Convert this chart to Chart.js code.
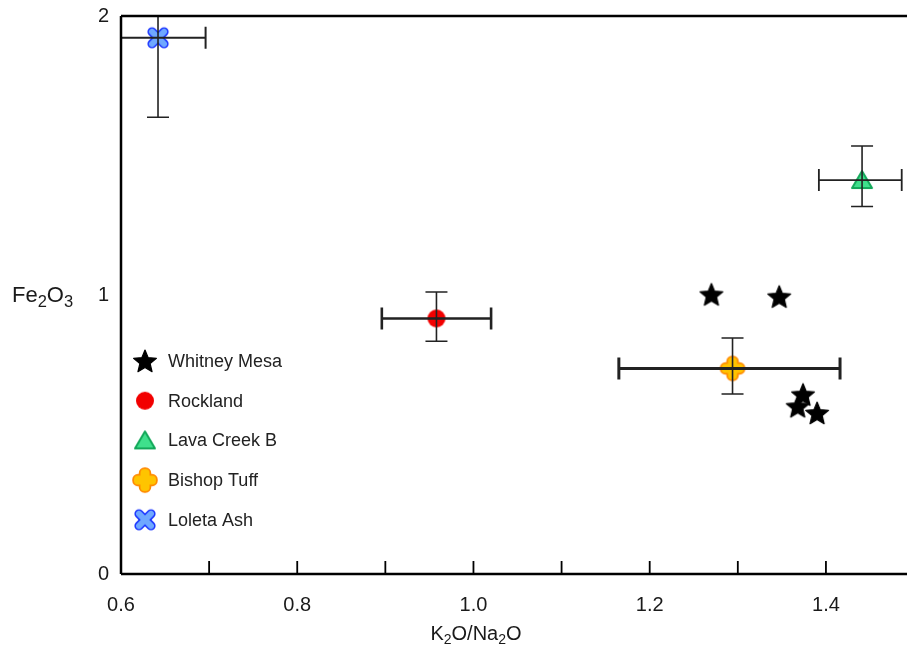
<!DOCTYPE html>
<html>
<head>
<meta charset="utf-8">
<script src="https://cdn.jsdelivr.net/npm/chart.js@4"></script>
<style>
html,body{margin:0;padding:0;background:#fff;}
#wrap{width:907px;height:657px;position:relative;}
</style>
</head>
<body>
<div id="wrap"><canvas id="c" width="907" height="657"></canvas></div>
<script>
// ---- data ----
const categories = ['Whitney Mesa', 'Rockland', 'Lava Creek B', 'Bishop Tuff', 'Loleta Ash'];
const whitneyX = [1.270, 1.347, 1.374, 1.368, 1.390];
const whitneyY = [1.002, 0.994, 0.643, 0.601, 0.577];
const rocklandX = [0.958];
const rocklandY = [0.916];
const rocklandXErr = [0.896, 1.020];
const rocklandYErr = [0.834, 1.011];
const lavaX = [1.441];
const lavaY = [1.412];
const lavaXErr = [1.392, 1.486];
const lavaYErr = [1.317, 1.534];
const bishopX = [1.294];
const bishopY = [0.737];
const bishopXErr = [1.165, 1.416];
const bishopYErr = [0.645, 0.846];
const loletaX = [0.642];
const loletaY = [1.922];
const loletaXErr = [0.600, 0.696];
const loletaYErr = [1.637, 2.000];
const xTickLabels = [0.6, 0.8, 1.0, 1.2, 1.4];
const xTickMarks = [0.7, 0.8, 0.9, 1.0, 1.1, 1.2, 1.3, 1.4];
const yTickLabels = [0, 1, 2];

// ---- marker images ----
function mk(size, draw) {
  const c = document.createElement('canvas');
  c.width = size; c.height = size;
  const g = c.getContext('2d');
  draw(g, size / 2);
  return c;
}
function rr(g, x, y, w, h, r) {
  g.beginPath();
  g.moveTo(x + r, y);
  g.arcTo(x + w, y, x + w, y + h, r);
  g.arcTo(x + w, y + h, x, y + h, r);
  g.arcTo(x, y + h, x, y, r);
  g.arcTo(x, y, x + w, y, r);
  g.closePath();
}
const starImg = mk(28, (g, c) => {
  g.beginPath();
  for (let i = 0; i < 10; i++) {
    const r = i % 2 === 0 ? 12 : 5.4;
    const a = -Math.PI / 2 + i * Math.PI / 5;
    const px = c + r * Math.cos(a), py = c + 1 + r * Math.sin(a);
    if (i === 0) g.moveTo(px, py); else g.lineTo(px, py);
  }
  g.closePath();
  g.fillStyle = '#000';
  g.fill();
  g.lineJoin = 'round';
  g.lineWidth = 1.2;
  g.strokeStyle = '#000';
  g.stroke();
});
const circleImg = mk(22, (g, c) => {
  g.beginPath();
  g.arc(c, c, 9, 0, Math.PI * 2);
  g.fillStyle = '#f20000';
  g.fill();
});
const triImg = mk(24, (g, c) => {
  g.beginPath();
  g.moveTo(c, c - 9);
  g.lineTo(c + 10, c + 8);
  g.lineTo(c - 10, c + 8);
  g.closePath();
  g.fillStyle = '#3fe08c';
  g.fill();
  g.lineWidth = 2;
  g.lineJoin = 'round';
  g.strokeStyle = '#13a85a';
  g.stroke();
});
const plusImg = mk(28, (g, c) => {
  const L = 22, W = 9, r = 4;
  g.lineWidth = 3.5;
  g.strokeStyle = '#ff8a00';
  rr(g, c - L / 2, c - W / 2, L, W, r); g.stroke();
  rr(g, c - W / 2, c - L / 2, W, L, r); g.stroke();
  g.fillStyle = '#ffc400';
  rr(g, c - L / 2, c - W / 2, L, W, r); g.fill();
  rr(g, c - W / 2, c - L / 2, W, L, r); g.fill();
});
const xImg = mk(28, (g, c) => {
  const L = 23, W = 6, r = 3;
  g.save();
  g.translate(c, c);
  g.rotate(Math.PI / 4);
  g.lineWidth = 3.2;
  g.strokeStyle = '#1a35ff';
  rr(g, -L / 2, -W / 2, L, W, r); g.stroke();
  rr(g, -W / 2, -L / 2, W, L, r); g.stroke();
  g.fillStyle = '#6fa8ff';
  rr(g, -L / 2, -W / 2, L, W, r); g.fill();
  rr(g, -W / 2, -L / 2, W, L, r); g.fill();
  g.restore();
});
const markerImgs = [starImg, circleImg, triImg, plusImg, xImg];

function pts(xs, ys) { return xs.map((x, i) => ({ x: x, y: ys[i] })); }

const errorBars = [
  { x: rocklandX[0], y: rocklandY[0], xe: rocklandXErr, ye: rocklandYErr, xw: 2.6 },
  { x: lavaX[0], y: lavaY[0], xe: lavaXErr, ye: lavaYErr, xw: 1.8 },
  { x: bishopX[0], y: bishopY[0], xe: bishopXErr, ye: bishopYErr, xw: 3 },
  { x: loletaX[0], y: loletaY[0], xe: loletaXErr, ye: loletaYErr, xw: 2 }
];

function drawSubText(g, parts, cx, cy, size, sub, align) {
  g.save();
  g.textBaseline = 'middle';
  g.textAlign = 'left';
  let w = 0;
  parts.forEach(p => {
    g.font = (p[1] ? size * sub : size) + 'px "Liberation Sans", Arial, sans-serif';
    w += g.measureText(p[0]).width;
  });
  let x = align === 'left' ? cx : cx - w / 2;
  parts.forEach(p => {
    g.font = (p[1] ? size * sub : size) + 'px "Liberation Sans", Arial, sans-serif';
    g.fillText(p[0], x, p[1] ? cy + size * 0.3 : cy);
    x += g.measureText(p[0]).width;
  });
  g.restore();
}

const decor = {
  id: 'decor',
  afterDatasetsDraw(chart) {
    const g = chart.ctx, xs = chart.scales.x, ys = chart.scales.y, a = chart.chartArea;
    g.save();
    // error bars
    g.strokeStyle = '#222';
    errorBars.forEach(e => {
      const px = xs.getPixelForValue(e.x), py = ys.getPixelForValue(e.y);
      const x0 = xs.getPixelForValue(e.xe[0]), x1 = xs.getPixelForValue(e.xe[1]);
      const y0 = ys.getPixelForValue(e.ye[0]), y1 = ys.getPixelForValue(e.ye[1]);
      g.lineWidth = e.xw;
      g.beginPath();
      g.moveTo(x0, py); g.lineTo(x1, py);
      g.moveTo(x0, py - 11); g.lineTo(x0, py + 11);
      g.moveTo(x1, py - 11); g.lineTo(x1, py + 11);
      g.stroke();
      g.lineWidth = 1.6;
      g.beginPath();
      g.moveTo(px, y0); g.lineTo(px, y1);
      g.moveTo(px - 11, y0); g.lineTo(px + 11, y0);
      g.moveTo(px - 11, y1); g.lineTo(px + 11, y1);
      g.stroke();
    });
    // axes frame
    g.strokeStyle = '#000';
    g.lineWidth = 2.5;
    g.beginPath();
    g.moveTo(a.left, a.top); g.lineTo(a.right + 5, a.top);
    g.moveTo(a.left, a.top); g.lineTo(a.left, a.bottom);
    g.moveTo(a.left, a.bottom); g.lineTo(a.right + 5, a.bottom);
    g.stroke();
    // inward x ticks
    g.lineWidth = 1.8;
    g.beginPath();
    xTickMarks.forEach(v => {
      const px = xs.getPixelForValue(v);
      g.moveTo(px, a.bottom); g.lineTo(px, a.bottom - 13);
    });
    g.stroke();
    // legend
    g.fillStyle = '#222';
    categories.forEach((name, i) => {
      const cy = 361 + i * 39.7;
      const img = markerImgs[i];
      g.drawImage(img, 145 - img.width / 2, cy - img.height / 2);
      g.font = '18px "Liberation Sans", Arial, sans-serif';
      g.textBaseline = 'middle';
      g.textAlign = 'left';
      g.fillText(name, 168, cy + 1);
    });
    // axis titles
    g.fillStyle = '#1a1a1a';
    drawSubText(g, [['Fe', false], ['2', true], ['O', false], ['3', true]], 12, 296, 22, 0.75, 'left');
    drawSubText(g, [['K', false], ['2', true], ['O/Na', false], ['2', true], ['O', false]], 476, 634, 20, 0.7, 'center');
    g.restore();
  }
};

const imgDataset = (label, xs, ys, img) => ({
  label: label, data: pts(xs, ys), pointStyle: img, pointRadius: 10, showLine: false, clip: false
});

new Chart(document.getElementById('c'), {
  type: 'scatter',
  data: {
    datasets: [
      imgDataset(categories[0], whitneyX, whitneyY, starImg),
      imgDataset(categories[1], rocklandX, rocklandY, circleImg),
      imgDataset(categories[2], lavaX, lavaY, triImg),
      imgDataset(categories[3], bishopX, bishopY, plusImg),
      imgDataset(categories[4], loletaX, loletaY, xImg)
    ]
  },
  options: {
    responsive: false,
    animation: false,
    events: [],
    layout: { autoPadding: false, padding: { top: 16, left: 0, right: 0, bottom: 0 } },
    plugins: { legend: { display: false }, tooltip: { enabled: false } },
    scales: {
      x: {
        type: 'linear', min: 0.6, max: 1.492,
        grid: { display: false, drawTicks: false },
        border: { display: false },
        afterBuildTicks: s => { s.ticks = xTickLabels.map(v => ({ value: v })); },
        afterFit: s => { s.height = 83; s.paddingLeft = 0; s.paddingRight = 0; },
        ticks: {
          padding: 19, color: '#1a1a1a', maxRotation: 0,
          font: { family: '"Liberation Sans", Arial, sans-serif', size: 20 },
          callback: v => v.toFixed(1)
        }
      },
      y: {
        type: 'linear', min: 0, max: 2,
        grid: { display: false, drawTicks: false },
        border: { display: false },
        afterBuildTicks: s => { s.ticks = yTickLabels.map(v => ({ value: v })); },
        afterFit: s => { s.width = 121; s.paddingTop = 0; s.paddingBottom = 0; },
        ticks: {
          padding: 12, color: '#1a1a1a',
          font: { family: '"Liberation Sans", Arial, sans-serif', size: 20 },
          callback: v => String(v)
        }
      }
    }
  },
  plugins: [decor]
});
</script>
</body>
</html>
